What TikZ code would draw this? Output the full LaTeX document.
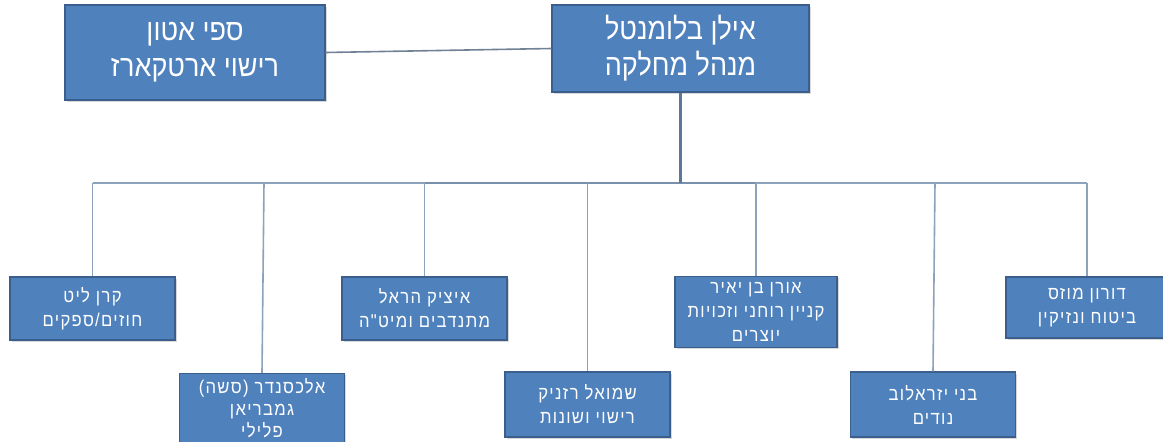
\documentclass[tikz,border=0pt]{standalone}
\usepackage{fontspec}
\usetikzlibrary{shadows}
\TeXXeTstate=1
\newfontfamily\hebfont[Script=Hebrew, FakeStretch=0.9]{Liberation Sans}
\newfontfamily\hebsmall[Script=Hebrew, FakeStretch=0.9, LetterSpace=7]{Liberation Sans}
\newcommand\hebline[1]{\beginR #1\endR}
\definecolor{boxfill}{HTML}{4F81BD}
\definecolor{boxedge}{HTML}{3B5E8C}
\definecolor{linecol}{HTML}{8DA2BC}
\definecolor{midcol}{HTML}{7890AC}
\definecolor{trunkcol}{HTML}{5D7798}
\tikzset{
  box/.style={draw=boxedge, line width=1.2pt, fill=boxfill, text=white, align=center,
    inner sep=0pt, font=\hebsmall\fontsize{18.5}{24}\selectfont,
    drop shadow={shadow xshift=1.5pt, shadow yshift=-1.5pt, opacity=0.3}},
  bigbox/.style={box, font=\hebfont\fontsize{30}{36}\selectfont},
  conn/.style={draw=linecol, line width=1.6pt},
  midconn/.style={draw=midcol, line width=2.2pt},
  trunk/.style={draw=trunkcol, line width=2.4pt},
}
\begin{document}
\begin{tikzpicture}[x=1pt, y=-1pt]
  \fill[white] (0,0) rectangle (1163,442);
  \clip (0,0) rectangle (1163,442);
  % top row
  \node[bigbox, minimum width=260pt, minimum height=95pt] (spi) at (195,52.5)
    {\hebline{ספי אטון}\\\hebline{רישוי ארטקארז}};
  \node[bigbox, minimum width=257pt, minimum height=87pt] (main) at (680.5,48.5)
    {\hebline{אילן בלומנטל}\\\hebline{מנהל מחלקה}};
  % children
  \node[box, minimum width=165pt, minimum height=63pt] (keren) at (92.5,308.5)
    {\hebline{קרן ליט}\\\hebline{חוזים/ספקים}};
  \node[box, anchor=north, minimum width=165pt, inner ysep=5pt,
    font=\hebsmall\fontsize{18.5}{22}\selectfont] (alex) at (262,373)
    {\hebline{אלכסנדר (סשה)}\\\hebline{גמבריאן}\\\hebline{פלילי}};
  \node[box, minimum width=165pt, minimum height=63pt] (itzik) at (424.5,308.5)
    {\hebline{איציק הראל}\\\hebline{מתנדבים ומיט"ה}};
  \node[box, minimum width=165pt, minimum height=65pt] (shmuel) at (587.5,404.5)
    {\hebline{שמואל רזניק}\\\hebline{רישוי ושונות}};
  \node[box, minimum width=162pt, minimum height=71pt] (oren) at (756,312)
    {\hebline{אורן בן יאיר}\\\hebline{קניין רוחני וזכויות}\\\hebline{יוצרים}};
  \node[box, minimum width=165pt, minimum height=65pt] (beni) at (933,404.5)
    {\hebline{בני יזראלוב}\\\hebline{נודים}};
  \node[box, minimum width=162pt, minimum height=61pt] (doron) at (1087,307.5)
    {\hebline{דורון מוזס}\\\hebline{ביטוח ונזיקין}};
  % connectors
  \coordinate (barL) at (92.5,183);
  \coordinate (barR) at (1087,183);
  \coordinate (topA) at (264,183);
  \coordinate (topB) at (935,183);
  \draw[conn, draw=linecol!80!black] (spi.east) -- (main.west);
  \draw[conn] (barL) -- (barR);
  \draw[midconn] (itzik.north |- barL) -- (oren.north |- barL);
  \draw[trunk] (main.south) -- (main.south |- barL);
  \draw[conn] (keren.north |- barL) -- (keren.north);
  \draw[conn] (topA) -- (alex.north);
  \draw[conn] (itzik.north |- barL) -- (itzik.north);
  \draw[conn] (shmuel.north |- barL) -- (shmuel.north);
  \draw[conn] (oren.north |- barL) -- (oren.north);
  \draw[conn] (topB) -- (beni.north);
  \draw[conn] (doron.north |- barL) -- (doron.north);
\end{tikzpicture}
\end{document}
